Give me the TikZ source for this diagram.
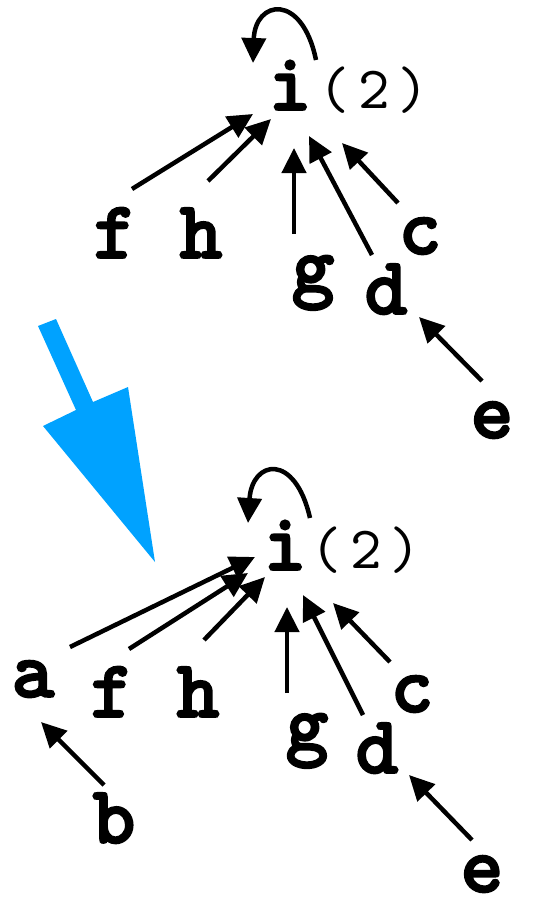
\documentclass[tikz,border=0pt]{standalone}
\usepackage{fontspec}
\newfontfamily\heavymono{lmmonolt10-bold.otf}[RawFeature={embolden=2.2}]
\newfontfamily\plainmono{lmmono10-regular.otf}
\usetikzlibrary{arrows.meta}
\definecolor{bigblue}{RGB}{0,162,255}
\tikzset{
  letter/.style={font=\heavymono\fontsize{82}{82}\selectfont, inner sep=0pt, anchor=base},
  count/.style={font=\plainmono\fontsize{60}{60}\selectfont, inner sep=0pt, anchor=base},
  edge/.style={line width=4.5pt, -{Triangle[length=25pt,width=24pt]}},
  bigarrow/.style={fill=bigblue, draw=none}
}
\newcommand{\cnt}{(\hspace{8pt}2\hspace{8pt})}
\begin{document}
\begin{tikzpicture}[x=1pt,y=-1pt]
\useasboundingbox (0,0) rectangle (534,902);
% ---------- top tree ----------
\node[letter] (i1) at (290,110) {i};
\node[count] (n1) at (374,108) {\cnt};
\node[letter] (f1) at (115,258) {f};
\node[letter] (h1) at (201,258) {h};
\node[letter] (g1) at (313,292) {g};
\node[letter] (d1) at (386,314) {d};
\node[letter] (c1) at (420,254) {c};
\node[letter] (e1) at (492,438) {e};
\draw[edge] ([shift={(17,-69)}]f1.base) -- ([shift={(-37,4)}]i1.base);
\draw[edge] ([shift={(7,-77)}]h1.base) -- ([shift={(-19,9)}]i1.base);
\draw[edge] ([shift={(-19,-58)}]g1.base) -- ([shift={(4,38)}]i1.base);
\draw[edge] ([shift={(-14,-59)}]d1.base) -- ([shift={(19,26)}]i1.base);
\draw[edge] ([shift={(-22,-51)}]c1.base) -- ([shift={(52,33)}]i1.base);
\draw[edge] ([shift={(-10,-57)}]e1.base) -- ([shift={(33,3)}]d1.base);
\draw[edge] ([shift={(26,-50)}]i1.base) .. controls ([shift={(12,-118)}]i1.base) and ([shift={(-35,-110)}]i1.base) .. ([shift={(-37,-47)}]i1.base);
% ---------- big blue arrow ----------
\path[bigarrow] (38,326) -- (56,319) -- (93,402) -- (128,387) -- (155,562) -- (43,426) -- (76,410) -- cycle;
% ---------- bottom tree ----------
\node[letter] (i2) at (285,570) {i};
\node[count] (n2) at (366,568) {\cnt};
\node[letter] (a2) at (33,697) {a};
\node[letter] (f2) at (112,717) {f};
\node[letter] (h2) at (198,717) {h};
\node[letter] (g2) at (307,750) {g};
\node[letter] (d2) at (377,773) {d};
\node[letter] (c2) at (412,712) {c};
\node[letter] (b2) at (114,843) {b};
\node[letter] (e2) at (482,892) {e};
\draw[edge] ([shift={(37,-50)}]a2.base) -- ([shift={(-30,-13)}]i2.base);
\draw[edge] ([shift={(17,-68)}]f2.base) -- ([shift={(-37,3)}]i2.base);
\draw[edge] ([shift={(6,-77)}]h2.base) -- ([shift={(-20,7)}]i2.base);
\draw[edge] ([shift={(-20,-57)}]g2.base) -- ([shift={(2,37)}]i2.base);
\draw[edge] ([shift={(-14,-58)}]d2.base) -- ([shift={(18,25)}]i2.base);
\draw[edge] ([shift={(-22,-50)}]c2.base) -- ([shift={(48,33)}]i2.base);
\draw[edge] ([shift={(-10,-58)}]b2.base) -- ([shift={(8,25)}]a2.base);
\draw[edge] ([shift={(-10,-52)}]e2.base) -- ([shift={(32,2)}]d2.base);
\draw[edge] ([shift={(25,-52)}]i2.base) .. controls ([shift={(10,-118)}]i2.base) and ([shift={(-33,-110)}]i2.base) .. ([shift={(-37,-47)}]i2.base);
\end{tikzpicture}
\end{document}
